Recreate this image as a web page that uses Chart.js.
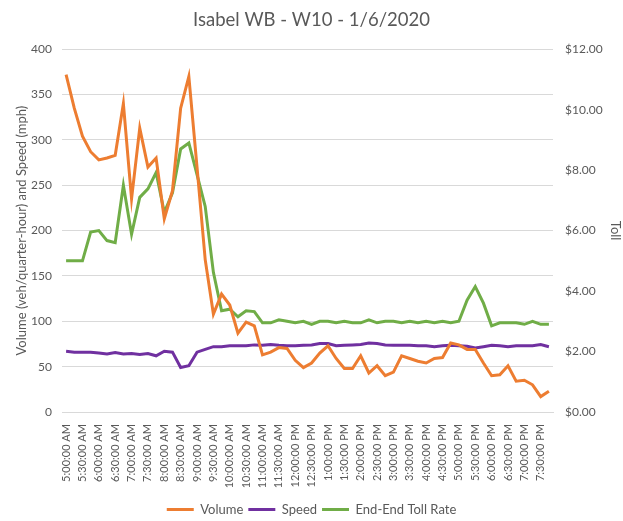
<!DOCTYPE html>
<html>
<head>
<meta charset="utf-8">
<script src="https://cdn.jsdelivr.net/npm/chart.js@4.4.1/dist/chart.umd.min.js"></script>
<style>
  html, body { margin: 0; padding: 0; background: #fff; }
  #wrap { width: 623px; height: 521px; position: relative; }
</style>
</head>
<body>
<div id="wrap"><canvas id="c" width="623" height="521"></canvas></div>
<script>
const chartTitle = "Isabel WB - W10 - 1/6/2020";

const categories = [
  "5:00:00 AM","5:15:00 AM","5:30:00 AM","5:45:00 AM","6:00:00 AM","6:15:00 AM","6:30:00 AM","6:45:00 AM",
  "7:00:00 AM","7:15:00 AM","7:30:00 AM","7:45:00 AM","8:00:00 AM","8:15:00 AM","8:30:00 AM","8:45:00 AM",
  "9:00:00 AM","9:15:00 AM","9:30:00 AM","9:45:00 AM","10:00:00 AM","10:15:00 AM","10:30:00 AM","10:45:00 AM",
  "11:00:00 AM","11:15:00 AM","11:30:00 AM","11:45:00 AM","12:00:00 PM","12:15:00 PM","12:30:00 PM","12:45:00 PM",
  "1:00:00 PM","1:15:00 PM","1:30:00 PM","1:45:00 PM","2:00:00 PM","2:15:00 PM","2:30:00 PM","2:45:00 PM",
  "3:00:00 PM","3:15:00 PM","3:30:00 PM","3:45:00 PM","4:00:00 PM","4:15:00 PM","4:30:00 PM","4:45:00 PM",
  "5:00:00 PM","5:15:00 PM","5:30:00 PM","5:45:00 PM","6:00:00 PM","6:15:00 PM","6:30:00 PM","6:45:00 PM",
  "7:00:00 PM","7:15:00 PM","7:30:00 PM","7:45:00 PM"
];

const volume = [
  372, 335, 304, 287, 278, 280, 283, 340, 235, 313, 270, 280, 213, 244, 335, 370,
  270, 168, 108, 130, 118, 87, 99, 95, 63, 66, 71, 70, 57, 49, 54, 65,
  73, 59, 48, 48, 62, 43, 51, 40, 44, 62, 59, 56, 54, 59, 60, 76,
  74, 69, 69, 54, 40, 41, 51, 34, 35, 30, 17, 23
];

const speed = [
  67, 66, 66, 66, 65, 64, 65.5, 64, 64.5, 63.5, 64.5, 62, 67, 66, 49, 51,
  66, 69, 72, 72, 73, 73, 73, 74, 73.5, 74.5, 73.5, 73, 73, 73.5, 74, 75.5,
  75.5, 73, 73.5, 74, 74.5, 76, 75.5, 74, 73.5, 73.5, 73.5, 73, 73, 72, 73, 73.5,
  73, 72.5, 70.5, 72, 73.5, 73, 72, 73, 73, 73, 74.3, 72
];

const tollRate = [
  5.00, 5.00, 5.00, 5.95, 6.00, 5.67, 5.60, 7.50, 5.88, 7.10, 7.38, 7.92, 6.60, 7.25, 8.70, 8.90,
  7.85, 6.80, 4.62, 3.35, 3.40, 3.15, 3.35, 3.32, 2.95, 2.95, 3.05, 3.00, 2.95, 3.00, 2.90, 3.00,
  3.00, 2.95, 3.00, 2.95, 2.95, 3.05, 2.95, 3.00, 3.00, 2.95, 3.00, 2.95, 3.00, 2.95, 3.00, 2.95,
  3.00, 3.70, 4.15, 3.60, 2.85, 2.95, 2.95, 2.95, 2.90, 3.00, 2.90, 2.90
];

const seriesNames = ["Volume", "Speed", "End-End Toll Rate"];
const leftTicks = { min: 0, max: 400, step: 50 };
const rightTicks = { min: 0, max: 12, step: 2 };
const leftAxisTitle = "Volume (veh/quarter-hour) and Speed (mph)";
const rightAxisTitle = "Toll";

const FONT = "'Lato', 'DejaVu Sans', sans-serif";
const GREY = "#595959";
const GRID = "#D9D9D9";

new Chart(document.getElementById('c'), {
  type: 'line',
  data: {
    labels: categories,
    datasets: [
      { label: seriesNames[0], data: volume, yAxisID: 'y', borderColor: '#ED7D31', backgroundColor: '#ED7D31', borderWidth: 3, pointRadius: 0, tension: 0 },
      { label: seriesNames[1], data: speed, yAxisID: 'y', borderColor: '#7030A0', backgroundColor: '#7030A0', borderWidth: 3, pointRadius: 0, tension: 0 },
      { label: seriesNames[2], data: tollRate, yAxisID: 'y2', borderColor: '#70AD47', backgroundColor: '#70AD47', borderWidth: 3, pointRadius: 0, tension: 0 }
    ]
  },
  options: {
    responsive: false,
    animation: false,
    layout: { padding: { left: 0, right: 0, top: 0, bottom: -5 } },
    plugins: {
      title: {
        display: true, text: chartTitle, color: GREY,
        font: { family: FONT, size: 18.5, weight: 'normal' },
        padding: { top: 9, bottom: 18 }
      },
      legend: {
        position: 'bottom',
        labels: {
          color: GREY, font: { family: FONT, size: 13 },
          usePointStyle: true, pointStyle: 'line', pointStyleWidth: 27,
          boxHeight: 12, padding: 5
        }
      },
      tooltip: { enabled: false }
    },
    scales: {
      x: {
        type: 'category',
        offset: true,
        grid: { display: false },
        border: { color: GRID, width: 1 },
        ticks: {
          autoSkip: false, maxRotation: 90, minRotation: 90,
          color: GREY, font: { family: FONT, size: 11 }, padding: 4,
          callback: function(v, i) { return i % 2 === 0 ? categories[i] : null; }
        },
        afterFit: function(s) { s.height = 86; }
      },
      y: {
        position: 'left', min: leftTicks.min, max: leftTicks.max,
        grid: { color: GRID, lineWidth: 1, drawTicks: false },
        border: { display: false },
        ticks: { stepSize: leftTicks.step, color: GREY, font: { family: FONT, size: 12 }, padding: 10 },
        title: { display: true, text: leftAxisTitle, color: GREY, font: { family: FONT, size: 13 }, padding: { top: 14, bottom: 0 } },
        afterFit: function(s) { s.width = 62; }
      },
      y2: {
        position: 'right', min: rightTicks.min, max: rightTicks.max,
        grid: { display: false },
        border: { display: false },
        ticks: { stepSize: rightTicks.step, color: GREY, font: { family: FONT, size: 12 }, padding: 4,
          callback: function(v) { return '$' + Number(v).toFixed(2); } },
        title: { display: true, text: rightAxisTitle, color: GREY, font: { family: FONT, size: 13 }, padding: 0 },
        afterFit: function(s) { s.width = 70; }
      }
    }
  }
});
</script>
</body>
</html>
